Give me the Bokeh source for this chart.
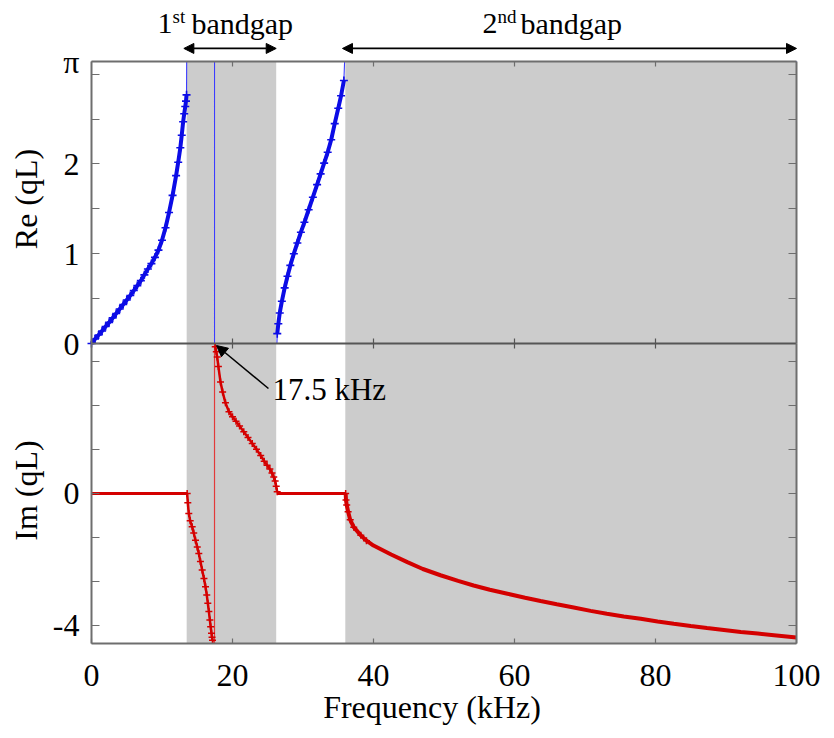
import math
from bokeh.plotting import figure
from bokeh.models import (Range1d, LinearAxis, FixedTicker, BoxAnnotation, Label,
                          Arrow, NormalHead)
from bokeh.embed import file_html
from bokeh.resources import INLINE

PI = math.pi

# ---------------- data ----------------
gap_start = [13.5, 36.0]
gap_end = [26.2, 100.0]

freq_ticks = [0, 20, 40, 60, 80, 100]
frame_ticks = [20, 40, 60, 80]

re_ticks = [0, 1, 2, PI]
re_tick_labels = ["0", "1", "2", "π"]
re_minor = [0.5, 1.5, 2.5, 3.0]
re_right_ticks = [0.5, 1.0, 1.5, 2.0, 2.5, 3.0]
im_ticks = [0, -4]
im_tick_labels = ["0", "-4"]
im_minor = [4.0, 2.67, 1.33, -1.33, -2.67]
im_right_ticks = [4.0, 2.67, 1.33, 0.0, -1.33, -2.67, -4.0]

# Re(qL): pass bands
re_pass1_f = [0.0, 0.5, 1.0, 1.5, 2.0, 2.5, 3.0, 3.5, 4.0, 4.5, 5.0, 5.5, 6.0, 6.5, 7.0, 7.5,
              8.0, 8.5, 9.0, 9.5, 10.0, 10.5, 11.0, 11.5, 12.0, 12.3, 12.6, 12.8, 13.0, 13.15,
              13.3, 13.4, 13.48]
re_pass1_v = [0.0, 0.05, 0.095, 0.14, 0.19, 0.235, 0.285, 0.335, 0.385, 0.435, 0.485, 0.535,
              0.59, 0.645, 0.70, 0.765, 0.83, 0.89, 0.96, 1.04, 1.15, 1.29, 1.46, 1.65, 1.87,
              2.02, 2.18, 2.32, 2.47, 2.56, 2.64, 2.70, 2.77]
re_pass2_f = [26.35, 26.5, 26.7, 27.0, 27.4, 27.8, 28.2, 28.7, 29.2, 29.7, 30.2, 30.8, 31.4,
              32.0, 32.5, 33.0, 33.5, 34.0, 34.5, 35.0, 35.4, 35.8]
re_pass2_v = [0.11, 0.22, 0.34, 0.47, 0.62, 0.75, 0.87, 1.00, 1.12, 1.24, 1.35, 1.49, 1.63,
              1.77, 1.89, 2.01, 2.13, 2.27, 2.45, 2.62, 2.76, 2.93]
# Re(qL): inside the bandgaps
re_gap1_f = [13.5, 17.45, 17.45, 26.3]
re_gap1_v = [PI, PI, 0.0, 0.0]
re_gap2_f = [35.9, 100.0]
re_gap2_v = [PI, PI]

# Im(qL)
im_pass1_f = [0.0, 13.57]
im_pass1_v = [0.0, 0.0]
im_gap1a_f = [13.57, 13.66, 13.8, 14.0, 14.28, 14.5, 14.75, 15.0, 15.22, 15.45, 15.7, 15.95,
              16.17, 16.35, 16.5, 16.65, 16.79, 16.9, 17.02, 17.1, 17.16]
im_gap1a_v = [0.0, -0.28, -0.61, -0.83, -1.01, -1.2, -1.42, -1.62, -1.82, -2.06, -2.32, -2.58,
              -2.83, -3.08, -3.33, -3.58, -3.84, -4.04, -4.24, -4.36, -4.45]
im_jump_f = [17.45, 17.45]
im_jump_v = [-4.55, 4.55]
im_gap1b_f = [17.55, 17.7, 17.83, 18.0, 18.3, 18.6, 19.0, 19.5, 20.0, 20.5, 21.0, 21.6, 22.2,
              22.8, 23.4, 24.0, 24.5, 24.9, 25.3, 25.6, 25.85, 26.05, 26.2, 26.34]
im_gap1b_v = [4.45, 4.3, 4.14, 3.85, 3.38, 3.08, 2.75, 2.48, 2.33, 2.19, 2.05, 1.87, 1.70,
              1.52, 1.34, 1.15, 0.98, 0.86, 0.74, 0.62, 0.50, 0.38, 0.22, 0.05]
im_pass2_f = [26.34, 36.05]
im_pass2_v = [0.0, 0.0]
im_gap2_f = [36.05, 36.1, 36.2, 36.4, 36.7, 37.2, 38.2, 39.0, 40.0, 42.5, 44.8, 47.0, 49.5,
             52.0, 54.2, 56.5, 59.0, 61.5, 63.7, 66.0, 68.4, 70.8, 73.1, 75.5, 77.9, 80.3,
             82.6, 85.0, 87.3, 89.7, 92.1, 94.5, 96.8, 100.0]
im_gap2_v = [0.0, -0.2, -0.35, -0.55, -0.8, -1.02, -1.27, -1.43, -1.58, -1.85, -2.08, -2.29,
             -2.48, -2.65, -2.79, -2.92, -3.04, -3.16, -3.26, -3.36, -3.46, -3.56, -3.65,
             -3.73, -3.80, -3.88, -3.95, -4.02, -4.08, -4.14, -4.20, -4.25, -4.30, -4.37]

marked_freq = 17.5

# ---------------- layout / style ----------------
W, H = 834, 738
FL, FR, FT, FM, FB = 91, 796, 61, 343, 643     # panel box edges in pixels
IM_LIM = 4.55
FONT = "Liberation Serif"
AX = "#6e6e6e"
BAND = "#cccccc"
BLUE = "#0c0ce6"
BLUE_THIN = "#3c3cff"
RED = "#d40000"
RED_THIN = "#e23a3a"

k_x = (FR - FL) / 100.0
k_re = (FM - FT) / PI
k_im = (FB - FM) / (2 * IM_LIM)
RE_BOTTOM = (FM - FB) / k_re

p = figure(width=W, height=H,
           x_range=Range1d(-FL / k_x, 100 + (W - FR) / k_x),
           y_range=Range1d((FM - H) / k_re, FM / k_re),
           x_axis_type=None, y_axis_type=None, output_backend="svg", toolbar_location=None,
           min_border=0, min_border_left=0, min_border_right=0, min_border_top=0,
           min_border_bottom=0, outline_line_color=None,
           background_fill_color="white", border_fill_color="white")
p.extra_y_ranges = {"im": Range1d(IM_LIM - (H - FM) / k_im, IM_LIM + FM / k_im)}
p.xgrid.visible = False
p.ygrid.visible = False

for s, e in zip(gap_start, gap_end):
    p.add_layout(BoxAnnotation(left=s, right=e, bottom=RE_BOTTOM, top=PI, fill_color=BAND,
                               fill_alpha=1.0, line_color=None, level="underlay"))


def make_axis(side, ticks, minor, loc, bounds, labels=None, range_name=None,
              tin=8, tout=0, color=AX, standoff=12):
    kw = {}
    if range_name:
        kw["y_range_name"] = range_name
    ax = LinearAxis(ticker=FixedTicker(ticks=ticks, minor_ticks=minor),
                    fixed_location=loc, bounds=bounds, **kw)
    if labels is not None:
        ax.major_label_overrides = dict(zip(ticks, labels))
    ax.axis_line_color = color
    ax.axis_line_width = 2
    ax.major_tick_line_color = color
    ax.minor_tick_line_color = color
    ax.major_tick_line_width = 1.2
    ax.minor_tick_line_width = 1.2
    ax.major_tick_in = tin
    ax.major_tick_out = tout
    ax.minor_tick_in = tin
    ax.minor_tick_out = tout
    ax.major_label_text_font = FONT
    ax.major_label_text_font_size = "32px"
    ax.major_label_text_color = "black"
    ax.major_label_standoff = standoff
    p.add_layout(ax, side)
    return ax


# ---------------- Re(qL) ----------------
re_all_f = re_pass1_f + re_gap1_f + re_pass2_f + re_gap2_f
re_all_v = re_pass1_v + re_gap1_v + re_pass2_v + re_gap2_v
p.line(re_all_f, re_all_v, line_color=BLUE_THIN, line_width=1.1)
for f, v in ((re_pass1_f, re_pass1_v), (re_pass2_f, re_pass2_v)):
    p.line(f, v, line_color=BLUE, line_width=4)
    p.scatter(f, v, marker="cross", size=8, line_color=BLUE, line_width=1.6)

# ---------------- Im(qL) ----------------
im_all_f = im_pass1_f + im_gap1a_f + im_jump_f + im_gap1b_f + im_pass2_f + im_gap2_f
im_all_v = im_pass1_v + im_gap1a_v + im_jump_v + im_gap1b_v + im_pass2_v + im_gap2_v
p.line(im_all_f, im_all_v, y_range_name="im", line_color=RED_THIN, line_width=1.2)
for f, v in ((im_pass1_f, im_pass1_v), (im_pass2_f, im_pass2_v)):
    p.line(f, v, y_range_name="im", line_color=RED, line_width=3)
for f, v in ((im_gap1a_f, im_gap1a_v), (im_gap1b_f, im_gap1b_v)):
    p.line(f, v, y_range_name="im", line_color=RED, line_width=2.5)
    p.scatter(f, v, y_range_name="im", marker="cross", size=7, line_color=RED, line_width=1.5)
p.line(im_gap2_f, im_gap2_v, y_range_name="im", line_color=RED, line_width=4)
p.scatter(im_gap2_f[:8], im_gap2_v[:8], y_range_name="im", marker="cross", size=7,
          line_color=RED, line_width=1.5)

# ---------------- frame / axes (drawn over the curves) ----------------
make_axis("left", re_ticks, re_minor, 0, (0, PI), labels=re_tick_labels, standoff=12)
make_axis("left", im_ticks, im_minor, 0, (-IM_LIM, IM_LIM), labels=im_tick_labels,
          range_name="im", standoff=12)
make_axis("right", [], re_right_ticks, 100, (0, PI))
make_axis("right", [], im_right_ticks, 100, (-IM_LIM, IM_LIM), range_name="im")
make_axis("above", [], frame_ticks, PI, (0, 100), tin=5)
make_axis("below", [], frame_ticks, 0, (0, 100), tin=5, tout=5, color="#555555")
make_axis("below", freq_ticks, [], RE_BOTTOM, (0, 100), labels=[str(t) for t in freq_ticks],
          tin=5, standoff=21)


# ---------------- texts / annotations ----------------
def label(x, y, text, size, rng=None, align="left", angle=0.0):
    kw = {"y_range_name": rng} if rng else {}
    p.add_layout(Label(x=x, y=y, text=text, text_font=FONT, text_font_size=size,
                       text_color="black", text_align=align, text_baseline="middle",
                       angle=angle, **kw))


# axis titles
label(-9.22, 1.61, "Re (qL)", "32px", align="center", angle=PI / 2)
label(-9.22, 0.09, "Im (qL)", "32px", rng="im", align="center", angle=PI / 2)
label(48.3, -4.055, "Frequency (kHz)", "32px", align="center")

# 17.5 kHz marker
p.add_layout(Arrow(end=NormalHead(size=11, fill_color="black", line_color="black"),
                   x_start=25.1, y_start=3.185, x_end=17.73, y_end=4.49,
                   y_range_name="im", line_color="black", line_width=1.5))
label(25.67, 3.14, f"{marked_freq} kHz", "31px", rng="im")

# bandgap arrows and names
ARROW_Y = 3.287
TEXT_Y = 3.565
SUP_Y = 3.648
for (s, e, num, sup, xn, xs, xb) in ((gap_start[0], gap_end[0], "1", "st", 9.36, 11.49, 14.18),
                                     (gap_start[1], gap_end[1], "2", "nd", 55.46, 57.59, 60.85)):
    p.add_layout(Arrow(start=NormalHead(size=10, fill_color="black", line_color="black"),
                       end=NormalHead(size=10, fill_color="black", line_color="black"),
                       x_start=s - 0.4, y_start=ARROW_Y, x_end=e, y_end=ARROW_Y,
                       line_color="black", line_width=1.8))
    label(xn, TEXT_Y, num, "30px")
    label(xs, SUP_Y, sup, "19px")
    label(xb, TEXT_Y, "bandgap", "30px")

open("out.html", "w").write(file_html(p, INLINE))
